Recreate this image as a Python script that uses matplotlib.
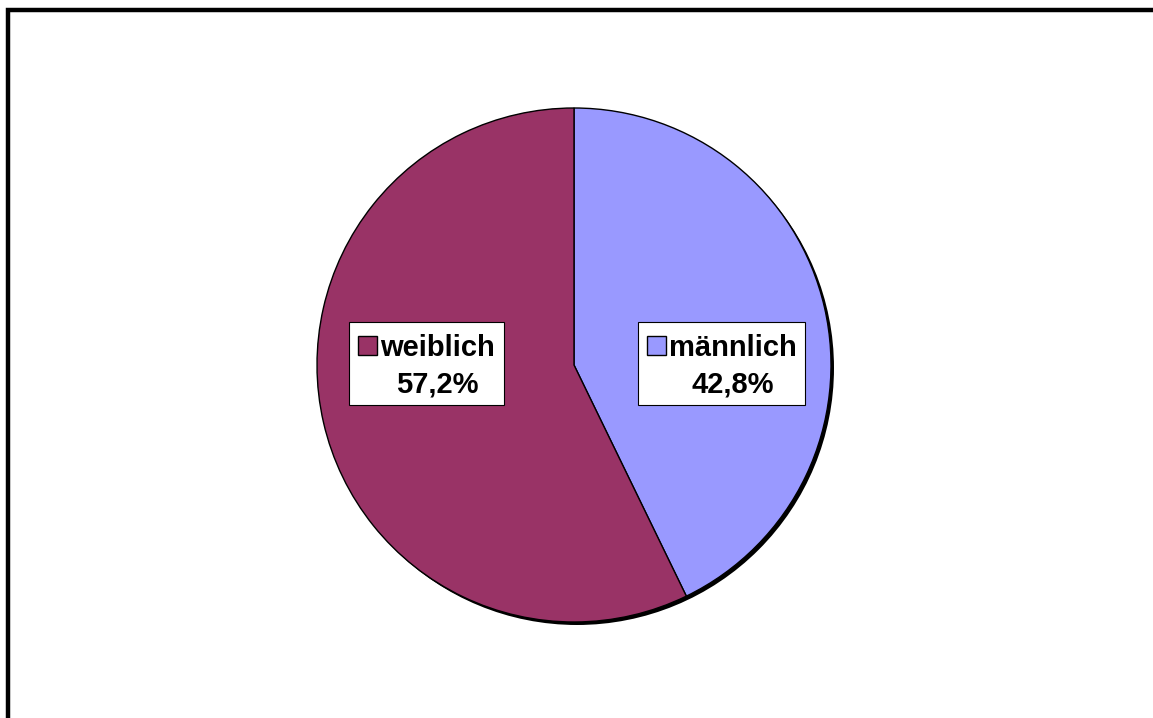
import matplotlib.pyplot as plt
from matplotlib.patches import Circle, Rectangle

# Geschlechterverteilung
categories = ['männlich', 'weiblich']
shares = [42.8, 57.2]
colors = ['#9999FF', '#993366']

W, H = 1153, 718


def main():
    plt.rcParams['font.family'] = ['Liberation Sans', 'DejaVu Sans']
    fig = plt.figure(figsize=(W / 100, H / 100), dpi=100)
    ax = fig.add_axes([0, 0, 1, 1])

    cx, cy, r = 574, H - 365, 257

    # schatten hinter dem kreis
    ax.add_patch(Circle((cx + 3, cy - 3), r, facecolor='black',
                        edgecolor='none', zorder=0))
    ax.pie(shares, colors=colors, startangle=90, counterclock=False,
           center=(cx, cy), radius=r,
           wedgeprops=dict(edgecolor='black', linewidth=1))

    ax.set_xlim(0, W)
    ax.set_ylim(0, H)
    ax.set_aspect('equal')
    ax.set_axis_off()

    # rahmen (rechts und unten abgeschnitten)
    ax.plot([7.5, 7.5, W + 10], [-10, H - 10, H - 10],
            color='black', lw=3.2, solid_joinstyle='miter', zorder=5)

    renderer = fig.canvas.get_renderer()
    sides = [1, -1]
    for name, val, col, side in zip(categories, shares, colors, sides):
        lx = cx + side * 0.574 * r
        ly = cy + 2
        t1 = ax.text(0, ly + 6.5, name, fontsize=21, fontweight='bold',
                     ha='left', va='baseline', zorder=6)
        wname = t1.get_window_extent(renderer).width
        gw = 19 + 3 + wname
        sq_left = lx - gw / 2
        name_left = sq_left + 22
        t1.set_x(name_left)
        ax.add_patch(Rectangle((sq_left, ly + 8.5), 19, 18.5, facecolor=col,
                               edgecolor='black', lw=1, zorder=6))
        pct = f'{val:.1f}%'.replace('.', ',')
        ax.text(name_left + wname / 2, ly - 29.5, pct, fontsize=21,
                fontweight='bold', ha='center', va='baseline', zorder=6)
        bw = gw + 18
        ax.add_patch(Rectangle((lx - bw / 2, ly - 41.5), bw, 83,
                               facecolor='white', edgecolor='black',
                               lw=0.8, zorder=5.5))

    plt.savefig('out.png', dpi=100)


if __name__ == '__main__':
    main()
